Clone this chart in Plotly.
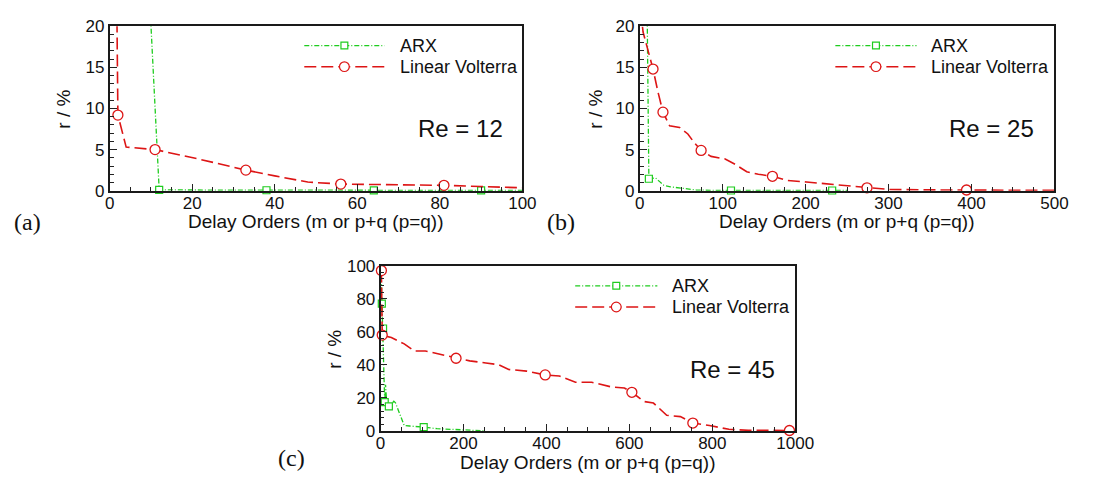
import plotly.graph_objects as go

W, H = 1093, 490

# ---------------- data ----------------
# (a) Re = 12
arx_a_x = [1, 4, 7, 10, 12, 20, 30, 38, 50, 64, 75, 90, 100]
arx_a_y = [95, 62, 38, 20.2, 0.1, 0.08, 0.06, 0.05, 0.05, 0.04, 0.04, 0.04, 0.04]
arx_a_mk = [12, 38, 64, 90]
lv_a_x = [1, 2, 4, 11, 22, 33, 40, 48, 56, 70, 81, 90, 100]
lv_a_y = [60, 9.2, 5.3, 5.0, 3.8, 2.5, 1.8, 1.05, 0.8, 0.72, 0.65, 0.5, 0.35]
lv_a_mk = [2, 11, 33, 56, 81]

# (b) Re = 25
arx_b_x = [1, 5, 9, 11, 15, 19, 24, 29, 37, 52, 68, 90, 110, 150, 190, 232, 250]
arx_b_y = [100, 60, 21, 1.45, 1.5, 1.55, 1.1, 0.66, 0.47, 0.3, 0.08, 0.03, 0.02, 0.02, 0.02, 0.02, 0.02]
arx_b_mk = [11, 110, 232]
lv_b_x = [1, 4, 8, 16, 22, 28, 36, 48, 58, 66, 74, 86, 103, 115, 129, 143, 160, 178, 201, 241, 274, 300, 340, 394, 450, 500]
lv_b_y = [22, 19.3, 17.8, 14.8, 12, 9.55, 7.9, 7.7, 6.9, 5.8, 4.9, 4.17, 3.86, 3.2, 2.3, 2.0, 1.75, 1.25, 1.05, 0.66, 0.35, 0.15, 0.1, 0.08, 0.05, 0.03]
lv_b_mk = [16, 28, 74, 160, 274, 394]

# (c) Re = 45
arx_c_x = [1, 3, 6, 8, 10, 12, 14, 17, 20, 26, 32, 36, 42, 50, 57, 70, 81, 104, 136, 175, 210, 250]
arx_c_y = [99, 77, 62, 40, 17.4, 28, 20, 16, 14.9, 16, 18, 17, 13, 7.2, 3.3, 3.0, 2.9, 2.3, 1.4, 0.8, 0.3, 0.1]
arx_c_mk = [3, 6, 10, 20, 104]
lv_c_x = [2, 3, 4, 10, 26, 57, 81, 108, 136, 182, 215, 254, 285, 309, 352, 397, 431, 470, 509, 557,
          588, 606, 635, 658, 690, 723, 753, 793, 840, 887, 940, 986]
lv_c_y = [97, 75, 58, 57.5, 56.5, 52.7, 48.4, 48.4, 46.9, 44, 42.4, 41.1, 40.1, 37.2, 36.2, 33.9,
          33.3, 29.5, 29.5, 26.6, 26.0, 23.4, 17.8, 16.9, 9.5, 8.7, 4.8, 3.3, 1.0, 0.4, 0.3, 0.3]
lv_c_mk = [2, 4, 182, 397, 606, 753, 986]

series_names = ["ARX", "Linear Volterra"]
re_labels = ["Re = 12", "Re = 25", "Re = 45"]
panel_labels = ["(a)", "(b)", "(c)"]
x_title = "Delay Orders (m or p+q (p=q))"
y_title = "r / %"

GREEN = "#1ecc1e"
RED = "#dd1515"
FONT = "Liberation Sans, Arial, sans-serif"
SERIF = "Liberation Serif, Times New Roman, serif"
GREEN_DASH = "5px,2px,1px,2px"
RED_DASH = "12px,5px"


def px(x):
    return x / W


def py(y):
    return 1 - y / H


def pick(xs, ys, mk):
    return mk, [ys[xs.index(m)] for m in mk]


fig = go.Figure()

panels = [
    (arx_a_x, arx_a_y, arx_a_mk, lv_a_x, lv_a_y, lv_a_mk, "x", "y"),
    (arx_b_x, arx_b_y, arx_b_mk, lv_b_x, lv_b_y, lv_b_mk, "x2", "y2"),
    (arx_c_x, arx_c_y, arx_c_mk, lv_c_x, lv_c_y, lv_c_mk, "x3", "y3"),
]

for ax_x, ax_y, ax_mk, lx, ly, lmk, xa, ya in panels:
    fig.add_trace(go.Scatter(x=ax_x, y=ax_y, mode="lines", xaxis=xa, yaxis=ya,
                             line=dict(color=GREEN, width=1.3, dash=GREEN_DASH),
                             name=series_names[0], showlegend=False))
    mx, my = pick(ax_x, ax_y, ax_mk)
    fig.add_trace(go.Scatter(x=mx, y=my, mode="markers", xaxis=xa, yaxis=ya,
                             marker=dict(symbol="square", size=7, color="white",
                                         line=dict(color=GREEN, width=1.2)),
                             cliponaxis=False, name=series_names[0], showlegend=False))
    fig.add_trace(go.Scatter(x=lx, y=ly, mode="lines", xaxis=xa, yaxis=ya,
                             line=dict(color=RED, width=1.6, dash=RED_DASH),
                             name=series_names[1], showlegend=False))
    mx, my = pick(lx, ly, lmk)
    fig.add_trace(go.Scatter(x=mx, y=my, mode="markers", xaxis=xa, yaxis=ya,
                             marker=dict(symbol="circle", size=10, color="white",
                                         line=dict(color=RED, width=1.3)),
                             cliponaxis=False, name=series_names[1], showlegend=False))


def axis(domain, rng, dtick, minor, anchor, standoff=0):
    return dict(domain=domain, range=rng, anchor=anchor, dtick=dtick, tick0=0,
                showline=True, linecolor="#1a1a1a", linewidth=1.7, mirror=True,
                ticks="inside", ticklen=7, tickwidth=1.2, tickcolor="#222",
                minor=dict(dtick=minor, tick0=0, ticks="inside", ticklen=4,
                           tickwidth=1, tickcolor="#222", showgrid=False),
                showgrid=False, zeroline=False, ticklabelstandoff=standoff,
                tickfont=dict(family=FONT, size=17, color="#111"))


ya_dom = [py(189), py(18)]
yc_dom = [py(439), py(267)]

fig.update_layout(
    width=W, height=H, margin=dict(l=0, r=0, t=0, b=0),
    paper_bgcolor="white", plot_bgcolor="white", showlegend=False,
    xaxis=axis([px(107), px(529)], [0, 100], 20, 5, "y", -4),
    yaxis=axis(ya_dom, [0, 20], 5, 1, "x"),
    xaxis2=axis([px(649), px(1073)], [0, 500], 100, 25, "y2", -4),
    yaxis2=axis(ya_dom, [0, 20], 5, 1, "x2"),
    xaxis3=axis([px(384), px(808)], [0, 1000], 200, 50, "y3", -4),
    yaxis3=axis(yc_dom, [0, 100], 20, 4, "x3"),
)

annotations = []
shapes = []

# axis titles
for cx, cy in [(318, 221), (861, 221), (596, 472)]:
    annotations.append(dict(x=px(cx), y=py(cy), xref="paper", yref="paper", text=x_title,
                            showarrow=False, xanchor="center", yanchor="middle",
                            font=dict(family=FONT, size=19, color="#111")))
for cx, cy in [(60, 104), (604, 104), (337, 354)]:
    annotations.append(dict(x=px(cx), y=py(cy), xref="paper", yref="paper", text=y_title,
                            textangle=-90, showarrow=False, xanchor="center", yanchor="middle",
                            font=dict(family=FONT, size=19, color="#111")))

# Re labels
for lab, (cx, cy) in zip(re_labels, [(466, 124), (1009, 124), (744, 375)]):
    annotations.append(dict(x=px(cx), y=py(cy), xref="paper", yref="paper", text=lab,
                            showarrow=False, xanchor="center", yanchor="middle",
                            font=dict(family=FONT, size=24, color="#111")))

# panel labels
for lab, (cx, cy) in zip(panel_labels, [(23, 222), (568, 222), (293, 467)]):
    annotations.append(dict(x=px(cx), y=py(cy), xref="paper", yref="paper", text=lab,
                            showarrow=False, xanchor="center", yanchor="middle",
                            font=dict(family=SERIF, size=24, color="#111")))

# legends (drawn manually: long line samples)
for x0, x1, ytop, xt in [(306, 388, 38, 402), (849, 932, 38, 945), (583, 667, 288, 680)]:
    xm = (x0 + x1) / 2
    for i, (col, dash, yy) in enumerate([(GREEN, GREEN_DASH, ytop), (RED, RED_DASH, ytop + 22)]):
        shapes.append(dict(type="line", xref="paper", yref="paper",
                           x0=px(x0), x1=px(x1), y0=py(yy), y1=py(yy),
                           line=dict(color=col, width=1.5 if i else 1.3, dash=dash)))
        r = 3.5 if i == 0 else 5
        shapes.append(dict(type="rect" if i == 0 else "circle", xref="paper", yref="paper",
                           x0=px(xm - r), x1=px(xm + r), y0=py(yy + r), y1=py(yy - r),
                           fillcolor="white", line=dict(color=col, width=1.2)))
        annotations.append(dict(x=px(xt), y=py(yy), xref="paper", yref="paper",
                                text=series_names[i], showarrow=False,
                                xanchor="left", yanchor="middle",
                                font=dict(family=FONT, size=18, color="#111")))

fig.update_layout(annotations=annotations, shapes=shapes)
fig.write_html("out.html")
